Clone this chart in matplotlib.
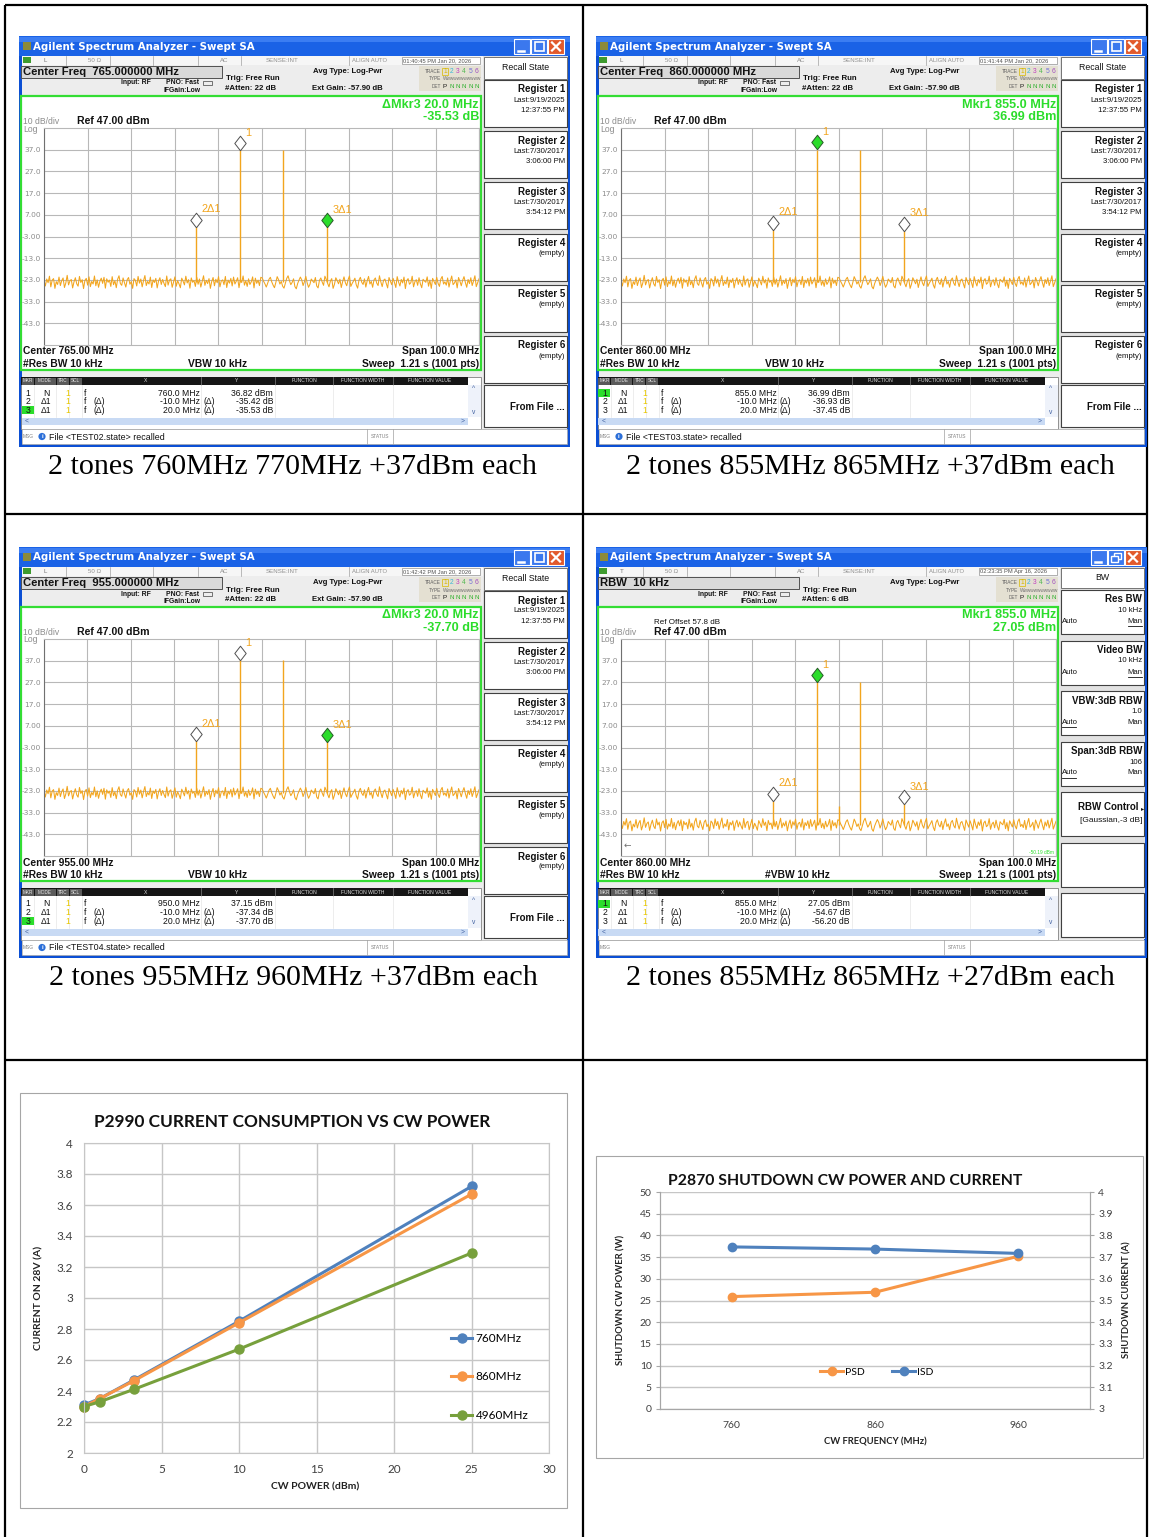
import numpy as np
import matplotlib
matplotlib.use('Agg')
from matplotlib import pyplot as plt
from matplotlib.patches import Rectangle, Circle
from matplotlib.transforms import offset_copy

W, H = 1151, 1537

# ---- spectrum analyzer captures ----
CAPTIONS = ['2 tones 760MHz 770MHz +37dBm each',
            '2 tones 855MHz 865MHz +37dBm each',
            '2 tones 955MHz 960MHz +37dBm each',
            '2 tones 855MHz 865MHz +27dBm each']
CENTER_MHZ = [765.0, 860.0, 955.0, 860.0]
SPAN_MHZ = 100.0
MKR1_MHZ = [760.0, 855.0, 950.0, 855.0]
MKR1_DBM = [36.82, 36.99, 37.15, 27.05]
UPPER_TONE_MHZ = [770.0, 865.0, 960.0, 865.0]
UPPER_TONE_DBM = [36.9, 37.0, 37.1, 27.0]
DELTA_MHZ = [-10.0, 20.0]
DELTA_DB = [[-35.42, -35.53], [-36.93, -37.45], [-37.34, -37.70], [-54.67, -56.20]]
NOISE_FLOOR_DBM = [-24.0, -24.0, -24.0, -38.5]
SPUR_MHZ = [[], [], [], [860.0]]
SPUR_DBM = [[], [], [], [-30.0]]
ACTIVE_MKR = [3, 1, 3, 1]
STATE_FILES = ['TEST02', 'TEST03', 'TEST04', '']
CLOCKS = ['01:40:45 PM Jan 20, 2026', '01:41:44 PM Jan 20, 2026',
          '01:42:42 PM Jan 20, 2026', '02:23:35 PM Apr 16, 2026']
ATTEN_DB = [22, 22, 22, 6]

# trace jitter around the noise floor (dB)
NOISE_DB = [
    0.6, -1.8, 1.4, -0.3, 2.7, -2.2, 0.9, 1.6, -2.9, 0.2,
    -1.1, 2.3, -1.6, 0.7, 1.9, -2.5, -0.4, 3.1, -1.3, 0.5,
    1.2, -2.7, 0.1, 2.0, -0.8, -1.9, 2.6, -0.2, 1.1, -3.0,
    0.8, 1.7, -1.4, 2.4, -2.1, 0.3, -0.9, 2.8, -1.7, 1.0,
    -2.4, 0.4, 1.8, -0.6, 2.2, -2.8, 1.5, -0.1, 0.9, -2.0,
    2.5, -1.2, 0.6, -2.6, 1.3, 2.9, -0.7, -1.5, 1.9, -0.3,
    -2.3, 1.1, 2.1, -1.0, 0.2, -2.9, 1.6, 0.8, -1.8, 2.6,
    -0.5, 1.4, -2.2, 0.7, 3.0, -1.6, 0.3, -0.9, 2.3, -2.5,
    1.0, -0.2, 1.7, -2.7, 0.5, 2.0, -1.1, 1.2, -0.6, -2.1,
    2.8, -1.4, 0.9, 1.5, -2.4, 0.1, 2.4, -1.9, 0.6, -0.8,
    -2.6, 1.8, 0.4, -1.3, 2.7, -0.4, 1.1, -2.8, 1.9, -0.1,
    0.7, -2.0, 2.2, -1.0, 1.4, -2.3, 0.2, 2.9, -1.5, 0.8,
    -0.7, 1.6, -2.9, 0.3, 2.1, -1.7, 1.3, -0.3, 2.5, -2.2,
    0.5, 1.0, -1.2, 2.6, -2.5, 0.9, -0.5, 1.7, -1.8, 2.3,
    -0.9, 0.4, 2.0, -2.6, 1.2, -0.2, 2.8, -1.4, 0.6, -2.0,
    1.5, -1.1, 0.1, 2.4, -2.7, 1.8, -0.6, 0.9, -1.6, 2.2,
    1.9, 0.4, -0.8, -2.3, -0.6, 1.3, 2.2, 0.1, -1.4, -2.6,
    -0.2, 2.5, 1.1, -0.9, 0.3, -1.9, -2.8, -0.5, 1.7, 2.9,
    0.6, -1.2, -0.1, 1.5, -2.1, -3.1, -0.7, 0.9, 2.3, 1.0,
    -1.6, 0.2, 2.6, -0.4, -2.4, -1.1, 1.4, 0.5, -0.3, 2.1,
    -1.8, -2.7, 0.8, 1.9, 0.0, -1.5, 2.7, 1.2, -0.6, -2.2,
    0.4, 1.6, -2.9, -1.0, 2.0, 0.7, -0.8, 1.3, -2.5, 0.2,
    2.4, -0.3, -1.7, 1.1, 2.8, -2.0, -0.6, 0.5, 1.8, -1.3,
    -2.8, 0.9, 2.2, -0.1, -1.1, 1.5, -2.3, 0.6, 2.6, -0.9,
    0.3, -2.4, 1.0, 1.9, -0.5, -1.6, 2.9, 0.1, -2.1, 0.8,
    1.4, -0.7, -2.7, 2.1, 0.4, -1.2, 1.7, -0.2, -2.5, 2.5,
    0.0, -1.8, 1.2, -0.4, 2.3, -3.0, 0.7, 1.6, -1.0, -0.3,
    2.7, -2.2, 0.2, 1.1, -1.5, 2.0, -0.8, -2.6, 1.3, 0.5,
    -0.1, 2.4, -1.9, 0.9, -2.9, 1.7, 0.3, -1.1, 2.2, -0.6,
    -2.0, 1.4, 2.6, -0.9, 0.1, -1.4, 1.9, -2.3, 0.6, 2.8,
    -1.2, -0.4, 1.0, -2.7, 2.1, 0.4, -1.7, 0.8, 2.5, -0.2,
    -2.4, 1.2, -0.7, 2.0, -1.6, 0.5, 2.9, -2.1, -0.3, 1.5,
]

REGISTERS = [('Register 1', 'Last:9/19/2025', '12:37:55 PM'),
             ('Register 2', 'Last:7/30/2017', '3:06:00 PM'),
             ('Register 3', 'Last:7/30/2017', '3:54:12 PM'),
             ('Register 4', '(empty)', ''),
             ('Register 5', '(empty)', ''),
             ('Register 6', '(empty)', '')]
BW_KEYS = [('Res BW', '10 kHz', 'Man'), ('Video BW', '10 kHz', 'Man'),
           ('VBW:3dB RBW', '1.0', 'Auto'), ('Span:3dB RBW', '106', 'Auto')]

# ---- P2990 current vs CW power ----
CW_POWER_DBM = [0, 1, 3.2, 10, 25]
CURRENT_760 = [2.31, 2.35, 2.47, 2.85, 3.72]
CURRENT_860 = [2.30, 2.35, 2.465, 2.84, 3.67]
CURRENT_4960 = [2.30, 2.33, 2.41, 2.67, 3.29]

# ---- P2870 shutdown ----
SD_FREQ = ['760', '860', '960']
SD_POWER_W = [25.9, 26.9, 35.2]
SD_CURRENT_A = [3.747, 3.737, 3.717]

SANS = 'Liberation Sans'
CHART_FONT = 'Lato'
INK = '#111111'
TRACE = '#F2A51E'
MKR_GREEN = '#2BDD2B'
XL_BLUE, XL_ORANGE, XL_GREEN = '#4F81BD', '#F79646', '#77A03C'
DIAMOND = [(0, -1), (0.78, 0), (0, 1), (-0.78, 0), (0, -1)]

fig = plt.figure(figsize=(W / 100, H / 100), dpi=100)


def px_axes(x0, y0, w, h, z):
    return fig.add_axes([x0 / W, 1 - (y0 + h) / H, w / W, h / H], zorder=z)


bg = px_axes(0, 0, W, H, 0)
bg.set_xlim(0, W)
bg.set_ylim(H, 0)
bg.axis('off')

for x in (5, 583, 1147):
    bg.plot([x, x], [5, H], color='black', lw=1.6, solid_capstyle='butt')
for y in (5, 514, 1060):
    bg.plot([5, 1147], [y, y], color='black', lw=1.6, solid_capstyle='butt')

for (cx, cy), cap in zip([(293, 467), (870, 467), (293, 978), (870, 978)], CAPTIONS):
    bg.text(cx, cy, cap, ha='center', va='center', fontsize=21.6, family='Liberation Serif')


def draw_analyzer(k, x0, y0):
    w, h = 551, 411
    ax = px_axes(x0, y0, w, h, 2)
    ax.set_xlim(0, w)
    ax.set_ylim(h, 0)
    ax.axis('off')

    def box(x, y, bw, bh, fc, ec='none', lw=0.6):
        ax.add_patch(Rectangle((x, y), bw, bh, facecolor=fc, edgecolor=ec, linewidth=lw))

    def txt(x, y, s, size=5, color=INK, bold=False, ha='left', family=SANS):
        ax.text(x, y, s, fontsize=size, color=color, ha=ha, va='center', family=family,
                fontweight='bold' if bold else 'normal')

    def hline(x1, x2, y, color='#A0A0A0', lw=0.5):
        ax.plot([x1, x2], [y, y], color=color, lw=lw)

    def vline(x, y1, y2, color='#A0A0A0', lw=0.5):
        ax.plot([x, x], [y1, y2], color=color, lw=lw)

    bw_menu = k == 3

    # window frame + title bar
    box(0, 0, w, h, '#0B4FD4')
    box(0, 0, w, 20, '#1A62E6')
    box(0, 1, w, 5, '#3B7DF2')
    box(3, 20, w - 6, h - 23, '#EDEDED')
    box(4, 6, 8, 8, '#8C8A3A')
    txt(14, 10.5, 'Agilent Spectrum Analyzer - Swept SA', 7.4, 'white', True, family='DejaVu Sans')
    for bx, fc in ((495, '#3B78EE'), (512, '#3B78EE'), (529, '#E25A2C')):
        box(bx, 3, 16, 15, fc, 'white', 0.8)
    ax.plot([498.5, 504.5], [14.5, 14.5], color='white', lw=1.8)
    if bw_menu:
        box(517.5, 6, 7, 6, 'none', 'white', 1.0)
        box(515, 9, 7, 6, '#3B78EE', 'white', 1.0)
    else:
        box(515.5, 6, 9, 9, 'none', 'white', 1.2)
    ax.plot([533, 541], [6.5, 14.5], color='white', lw=1.6)
    ax.plot([533, 541], [14.5, 6.5], color='white', lw=1.6)

    # status strip
    box(3, 20, w - 6, 8.5, '#F6F6F6')
    box(3.5, 21, 8, 6, '#3E9B2E')
    for xs in (47, 91, 134, 179, 222, 330):
        vline(xs, 20, 28.5)
    txt(24, 24.3, 'T' if bw_menu else 'L', 4.4, '#707070')
    txt(69, 24.3, '50 \u03a9', 4.4, '#909090')
    txt(201, 24.3, 'AC', 4.4, '#909090')
    txt(247, 24.3, 'SENSE:INT', 4.4, '#909090')
    txt(333, 24.3, 'ALIGN AUTO', 4.2, '#909090')
    box(383, 20.5, 78, 7.5, 'white', '#909090', 0.5)
    txt(384, 24.3, CLOCKS[k], 4.15, '#505050')

    # setup line
    box(2, 30, 201, 12, '#D9D9D9', '#505050', 0.7)
    if bw_menu:
        txt(4, 36.2, 'RBW  10 kHz', 8.1, INK, True)
    else:
        txt(4, 36.2, 'Center Freq  %.6f MHz' % CENTER_MHZ[k], 8.1, INK, True)
    txt(102, 47, 'Input: RF', 4.9, INK, True)
    txt(147, 47, 'PNO: Fast', 4.9, INK, True)
    ax.add_patch(Rectangle((184, 44.5), 9, 4, facecolor='none', edgecolor='#404040', lw=0.5))
    txt(145, 54.5, 'IFGain:Low', 4.9, INK, True)
    txt(207, 43, 'Trig: Free Run', 5.7, INK, True)
    txt(206, 52.5, '#Atten: %d dB' % ATTEN_DB[k], 5.7, INK, True)
    txt(294, 35.5, 'Avg Type: Log-Pwr', 5.6, INK, True)
    if not bw_menu:
        txt(293, 52.5, 'Ext Gain: -57.90 dB', 5.6, INK, True)

    # trace / detector box
    box(400, 30, 62, 25, '#E4E0D2')
    txt(422, 35.5, 'TRACE', 3.4, '#606060', ha='right')
    txt(422, 43, 'TYPE', 3.4, '#606060', ha='right')
    txt(422, 50.5, 'DET', 3.4, '#606060', ha='right')
    trace_cols = ['#D8B800', '#39B8D8', '#C040C0', '#50B850', '#7070D8', '#A050C0']
    for i, c in enumerate(trace_cols):
        txt(426 + 6.3 * i, 35.5, str(i + 1), 4.8, c, ha='center')
    box(423, 32, 6, 7, 'none', '#D8B800', 0.5)
    txt(423.5, 43, 'W' + 'w' * 10, 3.4, '#707070')
    txt(423.5, 50.5, 'P', 4.5, INK)
    for i in range(5):
        txt(432.6 + 6.3 * i, 50.5, 'N', 4.5, '#30B030', ha='center')

    # softkey panel
    box(464, 20, 85, 372, '#E2E2E2')
    if bw_menu:
        box(465, 21, 83, 20, 'white', '#606060', 0.6)
        txt(506, 31, 'BW', 6.3, ha='center')
        for i, (name, val, under) in enumerate(BW_KEYS):
            top = 43 + 50.5 * i
            box(465, top, 83, 44, 'white', '#404040', 0.8)
            txt(546, top + 9.5, name, 7.0, INK, True, ha='right')
            txt(546, top + 20.5, val, 5.6, ha='right')
            txt(466, top + 31.5, 'Auto', 5.6)
            txt(546, top + 31.5, 'Man', 5.6, ha='right')
            if under == 'Man':
                hline(532, 546, top + 36, INK, 0.6)
            else:
                hline(466, 480, top + 36, INK, 0.6)
        top = 43 + 50.5 * 4
        box(465, top, 83, 44, 'white', '#404040', 0.8)
        txt(543, top + 15, 'RBW Control', 7.0, INK, True, ha='right')
        txt(548, top + 16.5, '\u25b8', 4.5, ha='right', family='DejaVu Sans')
        txt(546, top + 29, '[Gaussian,-3 dB]', 6.0, ha='right')
        box(465, 43 + 50.5 * 5, 83, 44, 'white', '#404040', 0.8)
        box(465, 43 + 50.5 * 6, 83, 44, 'white', '#404040', 0.8)
    else:
        box(465, 21, 83, 22, 'white', '#606060', 0.6)
        txt(507, 31.5, 'Recall State', 6.3, ha='center')
        for i, (name, l1, l2) in enumerate(REGISTERS):
            top = 44 + 51.2 * i
            box(465, top, 83, 47, 'white', '#404040', 0.8)
            txt(546, top + 9.5, name, 7.0, INK, True, ha='right')
            txt(546, top + 20, l1, 5.6, ha='right')
            if l2:
                txt(546, top + 30.5, l2, 5.6, ha='right')
        box(465, 349, 83, 42, 'white', '#404040', 0.8)
        txt(546, 371, 'From File ...', 7.0, INK, True, ha='right')

    # graph frame
    box(2, 60, 460, 274, 'white', '#33DD33', 1.6)

    mk = ACTIVE_MKR[k]
    m_f = [MKR1_MHZ[k], MKR1_MHZ[k] + DELTA_MHZ[0], MKR1_MHZ[k] + DELTA_MHZ[1]]
    m_p = [MKR1_DBM[k], MKR1_DBM[k] + DELTA_DB[k][0], MKR1_DBM[k] + DELTA_DB[k][1]]
    if mk == 1:
        r1, r2 = 'Mkr1 %.1f MHz' % MKR1_MHZ[k], '%.2f dBm' % MKR1_DBM[k]
    else:
        r1 = '\u0394Mkr%d %.1f MHz' % (mk, DELTA_MHZ[mk - 2])
        r2 = '%.2f dB' % DELTA_DB[k][mk - 2]
    txt(460, 68.5, r1, 9.1, MKR_GREEN, True, ha='right')
    txt(460, 81, r2, 9.1, MKR_GREEN, True, ha='right')

    if bw_menu:
        txt(58, 75, 'Ref Offset 57.8 dB', 5.8)
    txt(4, 85.5, '10 dB/div', 6.2, '#8C8C8C')
    txt(4, 93, 'Log', 6.2, '#8C8C8C')
    txt(58, 85, 'Ref 47.00 dBm', 7.6, INK, True)

    txt(4, 315.5, 'Center %.2f MHz' % CENTER_MHZ[k], 7.4, INK, True)
    txt(4, 328, '#Res BW 10 kHz', 7.4, INK, True)
    txt(169, 328, '#VBW 10 kHz' if bw_menu else 'VBW 10 kHz', 7.4, INK, True)
    txt(460, 315.5, 'Span %.1f MHz' % SPAN_MHZ, 7.4, INK, True, ha='right')
    txt(460, 328, 'Sweep  1.21 s (1001 pts)', 7.4, INK, True, ha='right')

    # marker table
    box(2, 341, 460, 52, 'white', '#808080', 0.6)
    box(2, 341, 447, 8, '#151515')
    for cx, cw, lab in ((2, 13, 'MKR'), (15, 22, 'MODE'), (37, 13, 'TRC'), (50, 13, 'SCL')):
        box(cx + 0.5, 341.5, cw - 1, 7, '#5A5A5A')
        txt(cx + cw / 2, 345, lab, 3.3, '#E8E8E8', ha='center')
    for xs in (182, 256, 314, 374):
        vline(xs, 341, 349, '#808080')
    for cx, lab in ((127, 'X'), (218, 'Y'), (285, 'FUNCTION'), (344, 'FUNCTION WIDTH'), (411, 'FUNCTION VALUE')):
        txt(cx, 345, lab, 3.6, '#D8D8D8', ha='center')
    for xs in (15, 37, 50, 63, 182, 256, 314, 374):
        vline(xs, 349, 381, '#E6E6E6')
    for i in range(3):
        yy = 357 + 8.6 * i
        if i + 1 == mk:
            box(2.5, yy - 4, 12, 8, MKR_GREEN)
        txt(11.5, yy, str(i + 1), 6.2, ha='right')
        txt(27, yy, 'N' if i == 0 else '\u03941', 6.2, ha='center')
        txt(49, yy, '1', 6.2, '#E8C800', ha='center')
        txt(66, yy, 'f', 6.2, ha='center')
        if i == 0:
            txt(181, yy, '%.1f MHz' % m_f[0], 6.2, ha='right')
            txt(254, yy, '%.2f dBm' % m_p[0], 6.2, ha='right')
        else:
            txt(75, yy, '(\u0394)', 6.2)
            txt(181, yy, '%.1f MHz' % DELTA_MHZ[i - 1], 6.2, ha='right')
            txt(184, yy, '(\u0394)', 6.2)
            txt(254, yy, '%.2f dB' % DELTA_DB[k][i - 1], 6.2, ha='right')
    box(2.5, 382, 446, 7, '#C8DAF4')
    txt(6, 385.5, '<', 4.8, '#4060A0')
    txt(444, 385.5, '>', 4.8, '#4060A0', ha='center')
    box(449, 349, 12.5, 32, '#EEF2FA')
    txt(455, 353, '^', 4.8, '#4060A0', ha='center')
    txt(455, 376, 'v', 4.8, '#4060A0', ha='center')

    # message line
    box(3, 393, 545, 15, 'white', '#A8A8A8', 0.5)
    txt(3.5, 401, 'MSG', 3.5, '#808080')
    if STATE_FILES[k]:
        ax.add_patch(Circle((23, 400.5), 3.6, facecolor='#2C6FD8', edgecolor='none'))
        txt(23, 400.8, 'i', 4.5, 'white', True, ha='center')
        txt(30, 401, 'File <%s.state> recalled' % STATE_FILES[k], 6.4)
    vline(348, 393, 408)
    vline(374, 393, 408)
    txt(361, 401, 'STATUS', 3.5, '#808080', ha='center')

    # spectrum grid + trace
    sp = px_axes(x0 + 25, y0 + 92, 435, 217, 3)
    lo, hi = CENTER_MHZ[k] - SPAN_MHZ / 2, CENTER_MHZ[k] + SPAN_MHZ / 2
    sp.set_xlim(lo, hi)
    sp.set_ylim(-53, 47)
    sp.set_xticks(np.linspace(lo, hi, 11))
    sp.set_xticklabels([])
    levels = np.arange(37, -44, -10)
    sp.set_yticks(levels)
    sp.set_yticklabels([('%.1f' % v) if abs(v) >= 10 else ('%.2f' % v) for v in levels])
    sp.grid(True, color='#B8B8B8', lw=0.8)
    sp.tick_params(length=0, labelsize=5.4, labelcolor='#8C8C8C', pad=2.0)
    for s in sp.spines.values():
        s.set_color('#B8B8B8')
        s.set_linewidth(0.8)
    sp.spines['left'].set_color('#707070')
    sp.set_axisbelow(True)

    floor = NOISE_FLOOR_DBM[k]
    f = np.linspace(lo, hi, len(NOISE_DB))
    sp.plot(f, floor + np.array(NOISE_DB), color=TRACE, lw=0.75)
    sp.vlines(m_f + [UPPER_TONE_MHZ[k]] + SPUR_MHZ[k], floor,
              m_p + [UPPER_TONE_DBM[k]] + SPUR_DBM[k], color=TRACE, lw=1.0)

    lift = offset_copy(sp.transData, fig=fig, x=0, y=5.2, units='points')
    for i in range(3):
        active = i + 1 == mk
        sp.plot([m_f[i]], [m_p[i]], marker=DIAMOND, ms=10.5, mfc=MKR_GREEN if active else 'white',
                mec='#2A5A2A' if active else '#505050', mew=0.7, transform=lift, clip_on=False)
        sp.annotate('1' if i == 0 else '%d\u03941' % (i + 1), (m_f[i], m_p[i]),
                    xytext=(4.0, 10.5), textcoords='offset points', fontsize=7.8,
                    color=TRACE, family=SANS)
    if bw_menu:
        sp.text(0.005, -48, '\u2190', fontsize=6.5, color='#707070', transform=sp.get_yaxis_transform(),
                va='center', family='DejaVu Sans')
        sp.text(0.995, -51.5, '-50.19 dBm', fontsize=3.4, color=MKR_GREEN,
                transform=sp.get_yaxis_transform(), ha='right', va='center', family=SANS)


for k, (x0, y0) in enumerate([(19, 36), (596, 36), (19, 547), (596, 547)]):
    draw_analyzer(k, x0, y0)

# ---- chart: P2990 current consumption ----
bg.add_patch(Rectangle((20, 1093), 547, 415, facecolor='white', edgecolor='#A6A6A6', lw=0.8))
bg.text(292, 1122, 'P2990 CURRENT CONSUMPTION VS CW POWER', ha='center', va='center',
        fontsize=12.4, fontweight='bold', family=CHART_FONT, color='#111111')
bg.text(39, 1298, 'CURRENT ON 28V (A)', rotation=90, ha='center', va='center',
        fontsize=7.5, fontweight='bold', family=CHART_FONT, color='#222222')
bg.text(315, 1487, 'CW POWER (dBm)', ha='center', va='center',
        fontsize=7.5, fontweight='bold', family=CHART_FONT, color='#222222')

ax1 = px_axes(84, 1143, 465, 310, 2)
for ys, c, lab in ((CURRENT_760, XL_BLUE, '760MHz'), (CURRENT_860, XL_ORANGE, '860MHz'),
                   (CURRENT_4960, XL_GREEN, '4960MHz')):
    ax1.plot(CW_POWER_DBM, ys, color=c, lw=2.2, marker='o', ms=6.5, label=lab, clip_on=False)
ax1.set_xlim(0, 30)
ax1.set_ylim(2, 4)
ax1.set_xticks(range(0, 31, 5))
yt1 = np.round(np.arange(2, 4.01, 0.2), 1)
ax1.set_yticks(yt1)
ax1.set_yticklabels(['%g' % v for v in yt1])
ax1.grid(True, color='#C6C6C6', lw=1)
ax1.set_axisbelow(True)
ax1.tick_params(length=0, labelsize=8.5, labelcolor='#404040', pad=8)
for lab in ax1.get_xticklabels() + ax1.get_yticklabels():
    lab.set_family(CHART_FONT)
for s in ax1.spines.values():
    s.set_color('#C6C6C6')
ax1.legend(loc='center left', bbox_to_anchor=(451 / W, 1 - 1377 / H), bbox_transform=fig.transFigure,
           frameon=False, prop={'family': CHART_FONT, 'size': 8.5}, labelspacing=2.3,
           handlelength=1.8, handletextpad=0.3, borderpad=0, borderaxespad=0)

# ---- chart: P2870 shutdown power and current ----
bg.add_patch(Rectangle((596, 1156), 547, 302, facecolor='white', edgecolor='#A6A6A6', lw=0.8))
bg.text(845, 1181, 'P2870 SHUTDOWN CW POWER AND CURRENT', ha='center', va='center',
        fontsize=11.3, fontweight='bold', family=CHART_FONT, color='#111111')
bg.text(621, 1300, 'SHUTDOWN CW POWER (W)', rotation=90, ha='center', va='center',
        fontsize=6.8, fontweight='bold', family=CHART_FONT, color='#222222')
bg.text(1127, 1300, 'SHUTDOWN CURRENT (A)', rotation=90, ha='center', va='center',
        fontsize=6.8, fontweight='bold', family=CHART_FONT, color='#222222')
bg.text(875, 1442, 'CW FREQUENCY (MHz)', ha='center', va='center',
        fontsize=6.8, fontweight='bold', family=CHART_FONT, color='#222222')

ax2 = px_axes(660, 1192, 430, 217, 2)
xs = np.arange(len(SD_FREQ))
h_psd, = ax2.plot(xs, SD_POWER_W, color=XL_ORANGE, lw=2.2, marker='o', ms=6, label='PSD')
ax2.set_xlim(-0.5, len(SD_FREQ) - 0.5)
ax2.set_ylim(0, 50)
ax2.set_xticks(xs)
ax2.set_xticklabels(SD_FREQ)
ax2.set_yticks(range(0, 51, 5))
ax2.yaxis.grid(True, color='#C6C6C6', lw=1)
ax2.set_axisbelow(True)
ax2b = ax2.twinx()
h_isd, = ax2b.plot(xs, SD_CURRENT_A, color=XL_BLUE, lw=2.2, marker='o', ms=6, label='ISD')
ax2b.set_ylim(3, 4)
yt2 = np.round(np.arange(3, 4.01, 0.1), 1)
ax2b.set_yticks(yt2)
ax2b.set_yticklabels(['%g' % v for v in yt2])
for a in (ax2, ax2b):
    a.tick_params(axis='y', length=3, color='#A6A6A6', labelsize=7.5, labelcolor='#404040', pad=3)
    a.tick_params(axis='x', length=0, labelsize=7.5, labelcolor='#404040', pad=9)
    for lab in a.get_xticklabels() + a.get_yticklabels():
        lab.set_family(CHART_FONT)
    for name, s in a.spines.items():
        s.set_color('#A6A6A6')
        s.set_visible(name != 'top')
ax2b.legend(handles=[h_psd, h_isd], loc='center', bbox_to_anchor=(877 / W, 1 - 1372 / H),
            bbox_transform=fig.transFigure, ncol=2, frameon=False,
            prop={'family': CHART_FONT, 'size': 7.5}, handlelength=2.2, handletextpad=0.2,
            columnspacing=2.6, borderpad=0)

fig.savefig('out.png', dpi=100)
